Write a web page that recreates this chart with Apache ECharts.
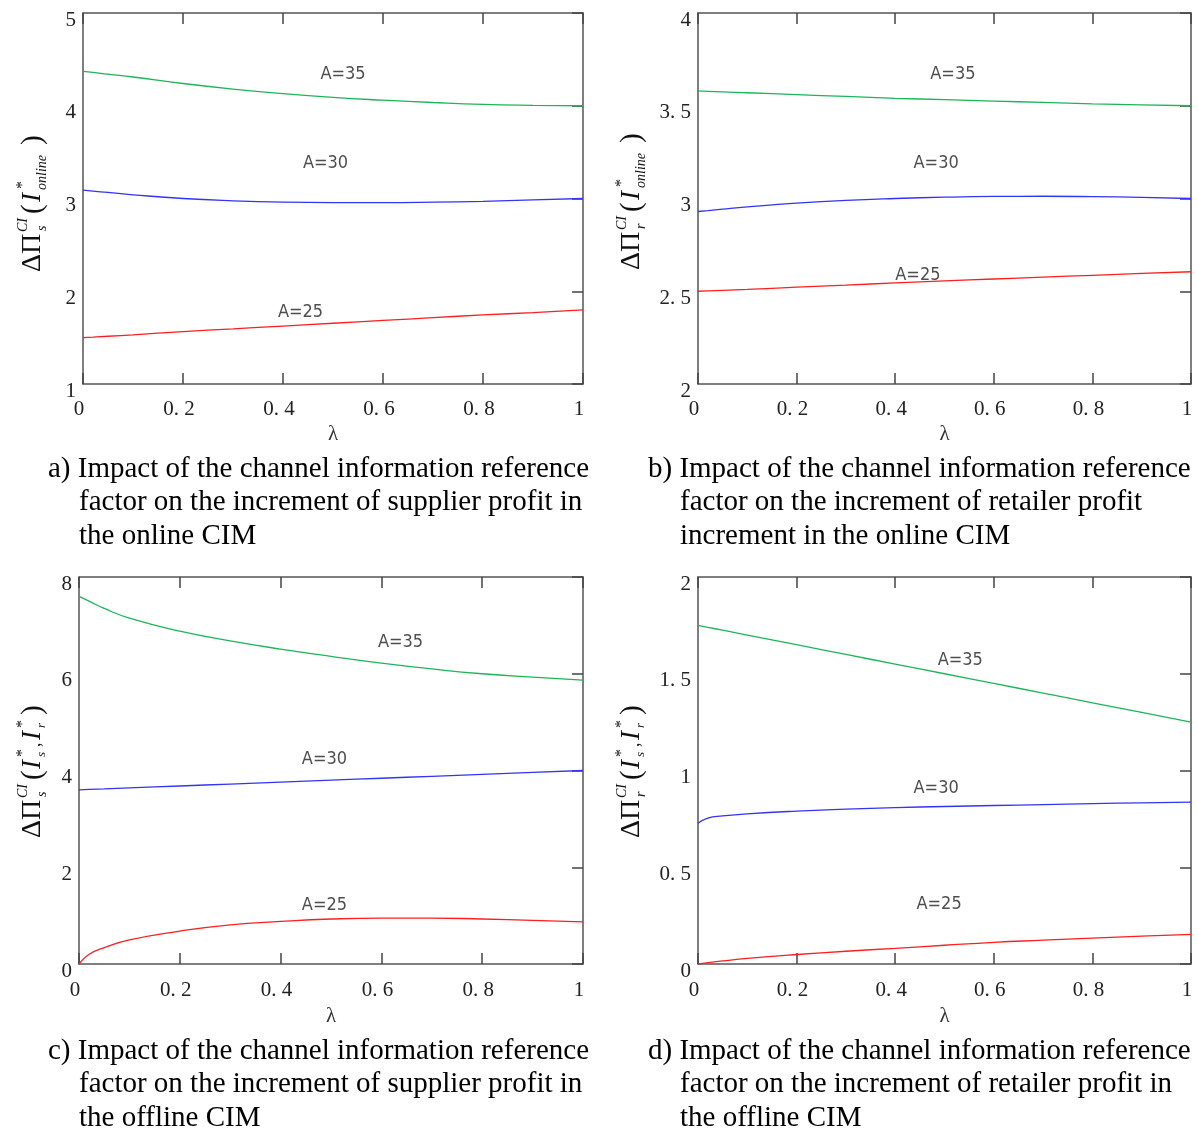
<!DOCTYPE html>
<html><head><meta charset="utf-8">
<script src="https://cdn.jsdelivr.net/npm/echarts@6/dist/echarts.min.js"></script>
<style>html,body{margin:0;padding:0;background:#fff}#c{width:1198px;height:1129px}</style>
</head><body><div id="c"></div>
<script>
// ---- data ----
const lambda = [0, 0.02, 0.05, 0.1, 0.2, 0.3, 0.4, 0.5, 0.6, 0.7, 0.8, 0.9, 1];
const seriesNames = ['A=35', 'A=30', 'A=25'];
// panel a: supplier profit increment, online CIM
const a35 = [4.37, 4.36, 4.34, 4.31, 4.24, 4.18, 4.13, 4.09, 4.06, 4.035, 4.015, 4.005, 4.0];
const a30 = [3.09, 3.08, 3.065, 3.04, 3.0, 2.975, 2.96, 2.955, 2.955, 2.96, 2.97, 2.985, 3.0];
const a25 = [1.5, 1.505, 1.515, 1.53, 1.565, 1.595, 1.625, 1.655, 1.685, 1.715, 1.745, 1.77, 1.8];
// panel b: retailer profit increment, online CIM
const b35 = [3.58, 3.578, 3.575, 3.57, 3.56, 3.55, 3.54, 3.533, 3.525, 3.518, 3.51, 3.505, 3.5];
const b30 = [2.93, 2.935, 2.943, 2.955, 2.975, 2.99, 3.0, 3.007, 3.011, 3.012, 3.01, 3.006, 3.0];
const b25 = [2.5, 2.502, 2.505, 2.51, 2.522, 2.533, 2.545, 2.556, 2.566, 2.576, 2.586, 2.596, 2.605];
// panel c: supplier profit increment, offline CIM
const c35 = [7.6, 7.5, 7.35, 7.15, 6.88, 6.68, 6.51, 6.36, 6.22, 6.1, 6.0, 5.93, 5.87];
const c30 = [3.6, 3.61, 3.62, 3.64, 3.68, 3.72, 3.76, 3.8, 3.84, 3.88, 3.92, 3.96, 4.0];
const c25 = [0, 0.2, 0.34, 0.5, 0.68, 0.81, 0.88, 0.93, 0.95, 0.95, 0.93, 0.9, 0.87];
// panel d: retailer profit increment, offline CIM
const d35 = [1.75, 1.74, 1.725, 1.7, 1.65, 1.6, 1.55, 1.5, 1.45, 1.4, 1.35, 1.3, 1.25];
const d30 = [0.727, 0.754, 0.765, 0.776, 0.79, 0.8, 0.808, 0.814, 0.819, 0.824, 0.829, 0.833, 0.837];
const d25 = [0, 0.007, 0.016, 0.029, 0.049, 0.066, 0.081, 0.097, 0.112, 0.123, 0.134, 0.144, 0.153];
// tick labels
const xTickLabels = ['0', '0. 2', '0. 4', '0. 6', '0. 8', '1'];
const aTicks = ['1', '2', '3', '4', '5'];
const bTicks = ['2', '2. 5', '3', '3. 5', '4'];
const cTicks = ['0', '2', '4', '6', '8'];
const dTicks = ['0', '0. 5', '1', '1. 5', '2'];
// curve annotations [lambda, value] for A=35, A=30, A=25
const aNotes = [[0.52, 4.34], [0.485, 3.38], [0.435, 1.77]];
const bNotes = [[0.517, 3.667], [0.483, 3.19], [0.446, 2.584]];
const cNotes = [[0.638, 6.65], [0.487, 4.23], [0.487, 1.21]];
const dNotes = [[0.532, 1.57], [0.483, 0.908], [0.489, 0.308]];
// captions
const captions = [
  ['a) Impact of the channel information reference', 'factor on the increment of supplier profit in', 'the online CIM'],
  ['b) Impact of the channel information reference', 'factor on the increment of retailer profit', 'increment in the online CIM'],
  ['c) Impact of the channel information reference', 'factor on the increment of supplier profit in', 'the offline CIM'],
  ['d) Impact of the channel information reference', 'factor on the increment of retailer profit in', 'the offline CIM']
];

// ---- styling / layout ----
const SERIF = "'Liberation Serif','Times New Roman',serif";
const NARROW = "'Liberation Sans Narrow','DejaVu Sans Condensed',sans-serif";
const colors = ['#1db55a', '#3434f5', '#ff1f1f'];
const panels = [
  {grid: {left: 83, top: 13, width: 500, height: 371}, min: 1, max: 5, iv: 1, ticks: aTicks, data: [a35, a30, a25], notes: aNotes, xm: 15, ng: 40},
  {grid: {left: 698, top: 13, width: 493, height: 371}, min: 2, max: 4, iv: 0.5, ticks: bTicks, data: [b35, b30, b25], notes: bNotes, xm: 15, ng: 40},
  {grid: {left: 79, top: 577, width: 504, height: 387}, min: 0, max: 8, iv: 2, ticks: cTicks, data: [c35, c30, c25], notes: cNotes, xm: 16, ng: 42},
  {grid: {left: 698, top: 577, width: 493, height: 387}, min: 0, max: 2, iv: 0.5, ticks: dTicks, data: [d35, d30, d25], notes: dNotes, xm: 16, ng: 42}
];
const boxLine = {show: true, onZero: false, lineStyle: {color: '#555', width: 1.5}};
const inTick = {show: true, inside: true, length: 11, lineStyle: {color: '#444', width: 1.5}};

const grid = [], xAxis = [], yAxis = [], series = [];
panels.forEach((p, i) => {
  grid.push(p.grid);
  xAxis.push({type: 'value', gridIndex: i, min: 0, max: 1, interval: 0.2, position: 'bottom',
    axisLine: boxLine, axisTick: inTick, splitLine: {show: false},
    axisLabel: {margin: p.xm, fontFamily: SERIF, fontSize: 21, color: '#222', padding: [0, 8, 0, 0],
      formatter: v => xTickLabels[Math.round(v * 5)]},
    name: 'λ', nameLocation: 'middle', nameGap: p.ng,
    nameTextStyle: {fontFamily: SERIF, fontSize: 21, color: '#333'}});
  xAxis.push({type: 'value', gridIndex: i, min: 0, max: 1, interval: 0.2, position: 'top',
    axisLine: boxLine, axisTick: inTick, axisLabel: {show: false}, splitLine: {show: false}});
  yAxis.push({type: 'value', gridIndex: i, min: p.min, max: p.max, interval: p.iv, position: 'left',
    axisLine: boxLine, axisTick: {show: false}, splitLine: {show: false},
    axisLabel: {margin: 7, fontFamily: SERIF, fontSize: 21, color: '#222', verticalAlign: 'top', lineHeight: 14,
      formatter: v => p.ticks[Math.round((v - p.min) / p.iv)]}});
  yAxis.push({type: 'value', gridIndex: i, min: p.min, max: p.max, interval: p.iv, position: 'right',
    axisLine: boxLine, axisTick: inTick, axisLabel: {show: false}, splitLine: {show: false}});
  p.data.forEach((vals, k) => {
    series.push({type: 'line', name: seriesNames[k] + '_' + i, xAxisIndex: 2 * i, yAxisIndex: 2 * i,
      data: lambda.map((x, j) => [x, vals[j]]), smooth: 0.5, showSymbol: false, symbol: 'none',
      lineStyle: {color: colors[k], width: 1.3}, silent: true, z: 3});
  });
  series.push({type: 'scatter', xAxisIndex: 2 * i, yAxisIndex: 2 * i, symbolSize: 0, silent: true,
    data: p.notes.map((n, k) => ({value: n, name: seriesNames[k]})),
    label: {show: true, position: 'inside', formatter: '{b}', fontFamily: NARROW, fontSize: 18, color: '#222'}});
});

// rotated y-axis titles built from real text pieces
function yTitle(cx, by, sub, offline) {
  const children = [];
  const t = (text, x, y, size, italic) => children.push({type: 'text', x: x, y: y,
    style: {text: text, fontFamily: SERIF, fontSize: size, fontStyle: italic ? 'italic' : 'normal',
      fill: '#111', align: 'left', verticalAlign: 'middle'}});
  t('ΔΠ', 0, 0, 28, false);
  t('CI', 40, -10, 14, true);
  t(sub, 41, 9, 14, true);
  t('(', 58, 0, 29, false);
  if (!offline) {
    t('I', 70, 0, 27, true);
    t('*', 83, -10, 16, false);
    t('online', 82, 9, 14, true);
    t(')', 127, 0, 29, false);
  } else {
    t('I', 69, 0, 27, true);
    t('*', 81, -10, 16, false);
    t('s', 81, 9, 13, true);
    t(',', 91, 2, 18, false);
    t('I', 98, 0, 27, true);
    t('*', 110, -10, 16, false);
    t('r', 110, 9, 13, true);
    t(')', 123, 0, 29, false);
  }
  return {type: 'group', x: cx, y: by, rotation: Math.PI / 2, children: children, silent: true};
}
const graphic = [
  yTitle(33, 272, 's', false),
  yTitle(632, 270, 'r', false),
  yTitle(33, 838, 's', true),
  yTitle(632, 838, 'r', true)
];
const capPos = [[48, 79, 469], [648, 680, 469], [48, 79, 1051], [648, 680, 1051]];
captions.forEach((lines, i) => {
  lines.forEach((ln, j) => {
    graphic.push({type: 'text', x: j === 0 ? capPos[i][0] : capPos[i][1], y: capPos[i][2] + j * 33.5, silent: true,
      style: {text: ln, fontFamily: SERIF, fontSize: 29, fill: '#000', align: 'left', verticalAlign: 'middle'}});
  });
});

const chart = echarts.init(document.getElementById('c'), null, {renderer: 'canvas'});
chart.setOption({animation: false, backgroundColor: '#fff', grid, xAxis, yAxis, series, graphic, tooltip: {show: false}});
</script></body></html>
